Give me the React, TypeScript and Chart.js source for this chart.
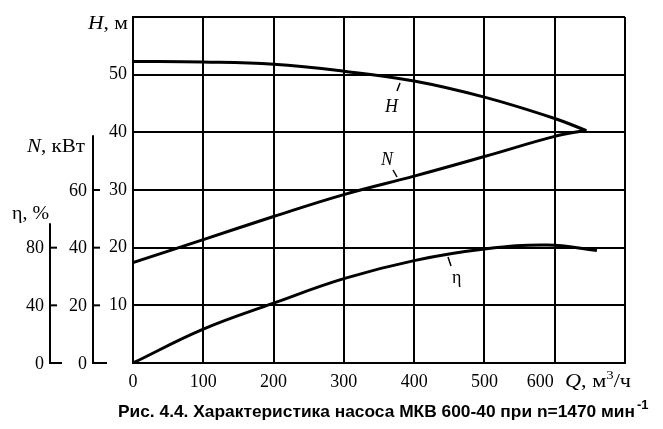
import React, { useEffect, useRef } from "react";
import { Chart, registerables } from "chart.js";
Chart.register(...registerables);

// Q, m3/h
const qTicks = [0, 100, 200, 300, 400, 500, 600, 700];
const qLabels = [0, 100, 200, 300, 400, 500];
const qShiftedLabel = 600;
const hGridTicks = [0, 10, 20, 30, 40, 50, 60];
const hLabels = [10, 20, 30, 40, 50];
const nTicks = [0, 20, 40, 60];
const etaTicks = [0, 40, 80];

// H (m) vs Q
const qH = [0, 100, 200, 300, 400, 500, 600, 645];
const hVals = [52.3, 52.2, 51.8, 50.6, 48.9, 46.1, 42.4, 40.3];
// N (kW) vs Q
const qN = [0, 100, 200, 300, 400, 500, 600, 645];
const nVals = [34.8, 42.8, 50.8, 58.4, 64.8, 71.6, 78.6, 80.7];
// eta (%) vs Q
const qE = [0, 100, 200, 300, 400, 500, 590, 660];
const eVals = [0, 23.5, 41.5, 58.5, 71, 79, 81.8, 78];

const caption = "Рис. 4.4. Характеристика насоса МКВ 600-40 при n=1470 мин";
const captionSup = "-1";

const SERIF = "'Liberation Serif', 'Times New Roman', serif";
const SANS = "'Liberation Sans', Arial, sans-serif";

export default function App() {
  const ref = useRef<HTMLCanvasElement>(null);
  useEffect(() => {
    document.body.style.margin = "0";
    const extras = {
      id: "extras",
      afterDraw(chart: any) {
        const ctx = chart.ctx as CanvasRenderingContext2D;
        const yN = chart.scales.yN;
        const yE = chart.scales.yE;
        const xS = chart.scales.x;
        ctx.save();
        ctx.strokeStyle = "#000";
        ctx.fillStyle = "#000";
        ctx.lineWidth = 2;
        const reg = `18px ${SERIF}`;
        const ital = `italic 18px ${SERIF}`;
        // N axis
        const nx = 93;
        ctx.beginPath();
        ctx.moveTo(nx, yN.getPixelForValue(0) + 1);
        ctx.lineTo(nx, yN.getPixelForValue(79));
        ctx.stroke();
        ctx.font = reg;
        ctx.textAlign = "right";
        ctx.textBaseline = "middle";
        nTicks.forEach((v) => {
          const py = yN.getPixelForValue(v);
          ctx.beginPath();
          ctx.moveTo(nx, py);
          ctx.lineTo(nx + (v === 0 ? 14 : 7), py);
          ctx.stroke();
          ctx.fillText(String(v), nx - 6, py + 1);
        });
        // eta axis
        const ex = 50;
        ctx.beginPath();
        ctx.moveTo(ex, yE.getPixelForValue(0) + 1);
        ctx.lineTo(ex, yE.getPixelForValue(97));
        ctx.stroke();
        etaTicks.forEach((v) => {
          const py = yE.getPixelForValue(v);
          ctx.beginPath();
          ctx.moveTo(ex, py);
          ctx.lineTo(ex + (v === 0 ? 12 : 7), py);
          ctx.stroke();
          ctx.fillText(String(v), ex - 6, py + 1);
        });
        // shifted 600 label (makes room for the Q title)
        ctx.textBaseline = "alphabetic";
        ctx.fillText(String(qShiftedLabel), xS.getPixelForValue(qShiftedLabel) - 1, 387);
        // axis titles
        ctx.textAlign = "left";
        type Part = [string, string, number?];
        const measureParts = (parts: Part[]) => {
          let w = 0;
          parts.forEach(([t, f]) => {
            ctx.font = f;
            w += ctx.measureText(t).width;
          });
          return w;
        };
        const drawParts = (parts: Part[], x0: number, y0: number, targetW?: number) => {
          const w = measureParts(parts);
          const sx = targetW ? targetW / w : 1;
          ctx.save();
          ctx.translate(x0, y0);
          ctx.scale(sx, 1);
          let x = 0;
          parts.forEach(([t, f, dy]) => {
            ctx.font = f;
            ctx.fillText(t, x, dy || 0);
            x += ctx.measureText(t).width;
          });
          ctx.restore();
        };
        const hParts: Part[] = [["H", ital], [", м", reg]];
        drawParts(hParts, 88, 29, 40);
        drawParts([["N", ital], [", кВт", reg]], 27, 152, 58);
        drawParts([["η, %", reg]], 12, 219, 37);
        drawParts(
          [
            ["Q", ital],
            [", м", reg],
            ["3", `12px ${SERIF}`, -8],
            ["/ч", reg],
          ],
          565,
          387,
          66
        );
        // curve labels with leaders
        ctx.lineWidth = 1.5;
        const leader = (x1: number, y1: number, x2: number, y2: number) => {
          ctx.beginPath();
          ctx.moveTo(x1, y1);
          ctx.lineTo(x2, y2);
          ctx.stroke();
        };
        leader(400, 83, 397, 91);
        ctx.font = ital;
        ctx.fillText("H", 385, 112);
        leader(393, 170, 397, 177);
        ctx.fillText("N", 381, 165);
        leader(448, 257, 451, 266);
        ctx.font = reg;
        ctx.fillText("η", 452, 283);
        // caption
        ctx.font = `bold 17px ${SANS}`;
        const cx = 118;
        const cw = ctx.measureText(caption).width;
        const target = 517;
        ctx.save();
        ctx.translate(cx, 417);
        ctx.scale(target / cw, 1);
        ctx.fillText(caption, 0, 0);
        ctx.restore();
        ctx.font = `bold 13px ${SANS}`;
        ctx.fillText(captionSup, cx + target + 2, 409);
        ctx.restore();
      },
    };

    const pts = (xs: number[], ys: number[]) => xs.map((x, i) => ({ x, y: ys[i] }));
    const lineStyle = {
      borderColor: "#000",
      borderWidth: 3,
      pointRadius: 0,
      fill: false,
      tension: 0.4,
    };
    const chart = new Chart(ref.current as HTMLCanvasElement, {
      type: "line",
      data: {
        datasets: [
          { label: "H", data: pts(qH, hVals), yAxisID: "y", ...lineStyle },
          { label: "N", data: pts(qN, nVals), yAxisID: "yN", ...lineStyle },
          { label: "η", data: pts(qE, eVals), yAxisID: "yE", ...lineStyle },
        ],
      },
      options: {
        animation: false,
        responsive: false,
        devicePixelRatio: 1,
        layout: { padding: { top: 17, right: 38, bottom: 36, left: 0 } },
        plugins: { legend: { display: false }, tooltip: { enabled: false } },
        scales: {
          x: {
            type: "linear",
            min: 0,
            max: 700,
            afterBuildTicks: (s: any) => {
              s.ticks = qTicks.map((v) => ({ value: v }));
            },
            afterFit: (s: any) => {
              s.height = 30;
            },
            ticks: {
              autoSkip: false,
              maxRotation: 0,
              padding: 8,
              color: "#000",
              font: { family: SERIF, size: 18 },
              callback: (v: any) => (qLabels.includes(Number(v)) ? String(v) : ""),
            },
            grid: { color: "#000", lineWidth: 2, drawTicks: false },
            border: { color: "#000", width: 2 },
          },
          y: {
            min: 0,
            max: 60,
            afterBuildTicks: (s: any) => {
              s.ticks = hGridTicks.map((v) => ({ value: v }));
            },
            afterFit: (s: any) => {
              s.width = 133;
            },
            ticks: {
              autoSkip: false,
              padding: 6,
              color: "#000",
              font: { family: SERIF, size: 18 },
              callback: (v: any) => (hLabels.includes(Number(v)) ? String(v) : ""),
            },
            grid: { color: "#000", lineWidth: 2, drawTicks: false },
            border: { color: "#000", width: 2 },
          },
          yN: { display: false, min: 0, max: 120 },
          yE: { display: false, min: 0, max: 240 },
        },
      },
      plugins: [extras],
    });
    return () => chart.destroy();
  }, []);
  return <canvas ref={ref} width={663} height={429} style={{ display: "block" }} />;
}
